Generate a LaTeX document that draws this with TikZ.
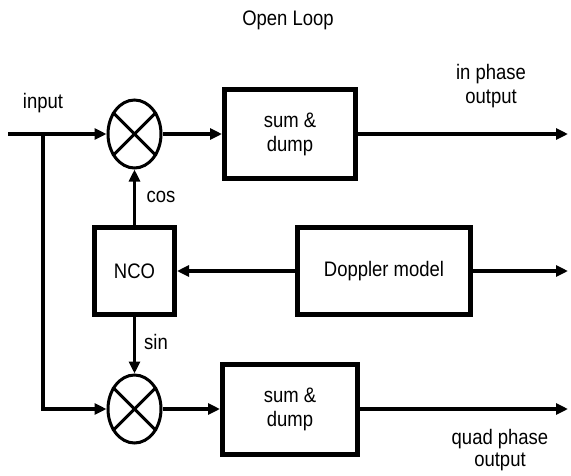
\documentclass[tikz,border=0pt]{standalone}
\usepackage{fontspec}
\setmainfont{Liberation Sans}[FakeStretch=0.88]
\usetikzlibrary{shapes.geometric,arrows.meta}
\begin{document}
\begin{tikzpicture}[x=1pt,y=-1pt,
  every node/.style={font=\fontsize{21}{24}\selectfont, inner sep=0pt},
  blk/.style={draw, line width=5pt, align=center},
  mult/.style={draw, ellipse, line width=3pt, minimum width=53pt, minimum height=68pt},
  arr/.style={line width=3.2pt, -{Triangle[length=12pt,width=11pt]}},
  wire/.style={line width=3pt},
  lbl/.style={align=center}]
\useasboundingbox (0,0) rectangle (571,475);
\fill[white] (0,0) rectangle (571,475);

% title
\node[lbl] (title) at (288,20) {Open Loop};

% multipliers
\node[mult] (mulA) at (134.5,134) {};
\node[mult] (mulB) at (134.5,409) {};
\foreach \m in {mulA,mulB}{
  \draw[wire] (\m.45) -- (\m.225);
  \draw[wire] (\m.135) -- (\m.315);
}

% blocks
\node[blk, minimum width=131pt, minimum height=89pt] (sdA) at (290,134) {sum \&\\dump};
\node[blk, minimum width=135pt, minimum height=90pt] (sdB) at (290,409) {sum \&\\dump};
\node[blk, minimum width=80pt, minimum height=87pt] (nco) at (134.5,271) {NCO};
\node[blk, minimum width=173pt, minimum height=87pt] (dop) at (384,271) {Doppler model};

% coordinates
\coordinate (in) at (8,134);
\coordinate (br) at (43,134);
\coordinate (outA) at (568,134);
\coordinate (outB) at (568,409);
\coordinate (outD) at (568,271);

% connectors
\draw[arr] (in) -- (mulA.west);
\draw[arr] (br) |- (mulB.west);
\draw[arr] (mulA.east) -- (sdA.west);
\draw[arr] (mulB.east) -- (sdB.west);
\draw[arr] (sdA.east) -- (outA);
\draw[arr] (sdB.east) -- (outB);
\draw[arr] (nco.north) -- (mulA.south);
\draw[arr] (nco.south) -- (mulB.north);
\draw[arr] (dop.west) -- (nco.east);
\draw[arr] (dop.east) -- (outD);

% labels
\node[lbl] (linput) at (43,103) {input};
\node[lbl] (lcos) at (161,197) {cos};
\node[lbl] (lsin) at (156,342) {sin};
\node[lbl] (lin) at (491,86) {in phase\\output};
\node[lbl, font=\fontsize{21}{21.5}\selectfont] (lquad) at (500,450) {quad phase\\output};
\end{tikzpicture}
\end{document}
